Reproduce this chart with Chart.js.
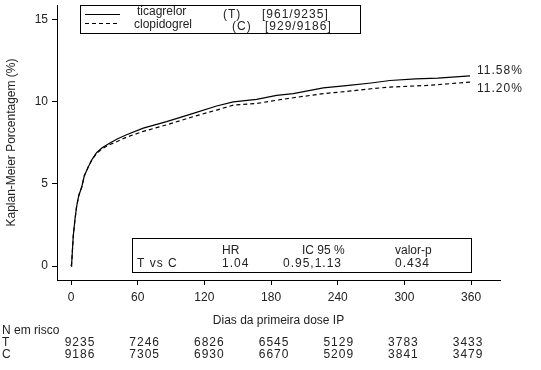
<!DOCTYPE html>
<html>
<head>
<meta charset="utf-8">
<script src="https://cdn.jsdelivr.net/npm/chart.js@4"></script>
<style>
  body { margin: 0; background: #fff; }
  #wrap { width: 541px; height: 370px; }
</style>
</head>
<body>
<div id="wrap"><canvas id="kmChart" width="541" height="370"></canvas></div>
<script>
// dias e porcentagem Kaplan-Meier
const ticaDays = [0, 0.6, 2, 3.5, 5, 7, 9.6, 12, 15.6, 19, 23, 28, 35, 42, 50, 65, 86, 110, 131, 146, 167, 185, 200, 227, 250, 270, 287, 310, 330, 359];
const ticaPct  = [0, 0.16, 1.8, 2.8, 3.6, 4.3, 4.8, 5.5, 6.05, 6.5, 6.9, 7.2, 7.5, 7.75, 8.0, 8.4, 8.8, 9.3, 9.75, 10.0, 10.15, 10.4, 10.5, 10.85, 11.0, 11.15, 11.3, 11.4, 11.45, 11.58];
const clopDays = [0, 0.6, 2, 3.5, 5, 7, 9.6, 12, 15.6, 19, 23, 28, 35, 42, 50, 65, 86, 110, 131, 146, 167, 185, 200, 227, 250, 270, 287, 320, 359];
const clopPct  = [0, 0.16, 1.8, 2.8, 3.6, 4.3, 4.8, 5.5, 6.05, 6.5, 6.85, 7.15, 7.4, 7.6, 7.85, 8.2, 8.6, 9.1, 9.5, 9.8, 9.9, 10.1, 10.25, 10.5, 10.65, 10.8, 10.9, 11.0, 11.2];

const xTicks = [0, 60, 120, 180, 240, 300, 360];
const yTicks = [0, 5, 10, 15];
const riskT = [9235, 7246, 6826, 6545, 5129, 3783, 3433];
const riskC = [9186, 7305, 6930, 6670, 5209, 3841, 3479];

const FONT = '"Liberation Sans", Arial, sans-serif';
const INK = '#222';

function toPoints(xs, ys) {
  return xs.map((x, i) => ({ x: x, y: ys[i] }));
}

const annotations = {
  id: 'annotations',
  afterDraw(chart) {
    const ctx = chart.ctx;
    const xs = chart.scales.x;
    ctx.save();
    ctx.fillStyle = INK;
    ctx.strokeStyle = '#000';
    ctx.font = '12px ' + FONT;
    ctx.textBaseline = 'middle';
    ctx.letterSpacing = '1px';

    // rótulos finais
    ctx.textAlign = 'left';
    ctx.fillText('11.58%', 477, 71);
    ctx.fillText('11.20%', 477, 89);

    // caixa da legenda
    ctx.lineWidth = 1;
    ctx.strokeRect(80.5, 5.5, 280, 28);
    ctx.beginPath();
    ctx.moveTo(85, 14.5); ctx.lineTo(120, 14.5);
    ctx.stroke();
    ctx.setLineDash([4, 3]);
    ctx.beginPath();
    ctx.moveTo(85, 23.5); ctx.lineTo(120, 23.5);
    ctx.stroke();
    ctx.setLineDash([]);
    ctx.letterSpacing = '0px';
    ctx.fillText('ticagrelor', 137, 12);
    ctx.fillText('clopidogrel', 134, 25);
    ctx.letterSpacing = '1px';
    ctx.fillText('(T)', 223, 15);
    ctx.fillText('[961/9235]', 262, 15);
    ctx.fillText('(C)', 232, 27);
    ctx.fillText('[929/9186]', 265, 27);

    // caixa HR
    ctx.strokeRect(132.5, 238.5, 339, 34);
    ctx.letterSpacing = '0px';
    ctx.fillText('HR', 222, 251);
    ctx.fillText('IC 95 %', 302, 251);
    ctx.fillText('valor-p', 395, 251);
    ctx.letterSpacing = '1px';
    ctx.fillText('T vs C', 137, 264);
    ctx.fillText('1.04', 222, 264);
    ctx.fillText('0.95,1.13', 283, 264);
    ctx.fillText('0.434', 395, 264);

    // tabela de risco
    ctx.letterSpacing = '0px';
    ctx.fillText('N em risco', 2, 331);
    ctx.fillText('T', 2, 343);
    ctx.fillText('C', 2, 355);
    ctx.textAlign = 'center';
    ctx.letterSpacing = '1px';
    xTicks.forEach((d, i) => {
      const px = xs.getPixelForValue(d) + 9 - i * 2;
      ctx.fillText(String(riskT[i]), px, 343);
      ctx.fillText(String(riskC[i]), px, 355);
    });
    ctx.restore();
  }
};

new Chart(document.getElementById('kmChart').getContext('2d'), {
  type: 'line',
  data: {
    datasets: [{
      label: 'ticagrelor',
      data: toPoints(ticaDays, ticaPct),
      borderColor: '#000',
      borderWidth: 1.2,
      pointRadius: 0,
      fill: false,
      tension: 0
    }, {
      label: 'clopidogrel',
      data: toPoints(clopDays, clopPct),
      borderColor: '#000',
      borderWidth: 1.2,
      borderDash: [4, 3],
      pointRadius: 0,
      fill: false,
      tension: 0
    }]
  },
  plugins: [annotations],
  options: {
    responsive: false,
    animation: false,
    layout: { padding: { left: 0, right: 41, top: 5, bottom: 38 } },
    plugins: {
      legend: { display: false },
      tooltip: { enabled: false }
    },
    scales: {
      x: {
        type: 'linear',
        min: -12.6,
        max: 386,
        afterBuildTicks: s => { s.ticks = xTicks.map(v => ({ value: v })); },
        afterFit: s => { s.height = 52; s.paddingLeft = 0; s.paddingRight = 0; },
        grid: { drawOnChartArea: false, drawTicks: true, tickLength: 5, color: '#000' },
        border: { display: true, color: '#000' },
        ticks: { color: INK, font: { family: FONT, size: 12 }, padding: 5, maxRotation: 0 },
        title: { display: true, text: 'Dias da primeira dose IP', color: INK, font: { family: FONT, size: 12 }, padding: { top: 0 } }
      },
      y: {
        min: -0.85,
        max: 15.9,
        afterBuildTicks: s => { s.ticks = yTicks.map(v => ({ value: v })); },
        afterFit: s => { s.width = 57; s.paddingTop = 0; s.paddingBottom = 0; },
        grid: { drawOnChartArea: false, drawTicks: true, tickLength: 5, color: '#000' },
        border: { display: true, color: '#000' },
        ticks: { color: INK, font: { family: FONT, size: 12 }, padding: 4 },
        title: { display: true, text: 'Kaplan-Meier Porcentagem (%)', color: INK, font: { family: FONT, size: 12 }, padding: { bottom: 2 } }
      }
    }
  }
});
</script>
</body>
</html>
